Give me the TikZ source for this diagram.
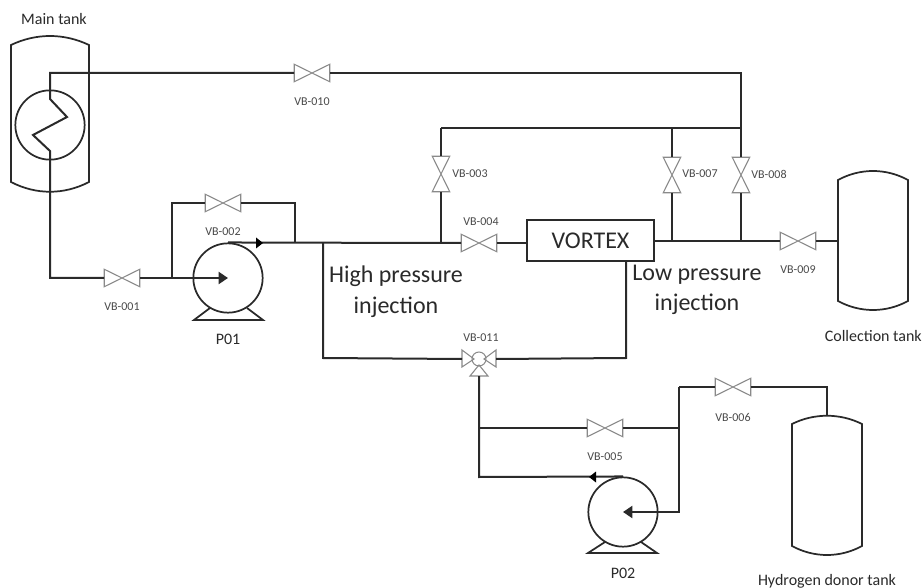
\documentclass[tikz,border=0pt]{standalone}
\usepackage{fontspec}
\setmainfont{Carlito}
\usetikzlibrary{arrows.meta,calc}
\definecolor{ink}{HTML}{2A2A2A}
\definecolor{valvegray}{HTML}{8A8A8A}
\definecolor{tagtext}{HTML}{4A4A4A}
\tikzset{
  pipe/.style={draw=ink,line width=1.5pt,line join=miter},
  thin pipe/.style={draw=ink,line width=1.3pt},
  valveh/.style={rectangle,inner sep=0pt,minimum width=26.25pt,minimum height=12.75pt,
    append after command={\pgfextra{\let\vn\tikzlastnode
      \draw[valvegray,line width=.8pt,line join=miter,fill=white] (\vn.south west)--(\vn.north east)--(\vn.south east)--(\vn.north west)--cycle;}}},
  valvev/.style={rectangle,inner sep=0pt,minimum width=12.75pt,minimum height=26.25pt,
    append after command={\pgfextra{\let\vn\tikzlastnode
      \draw[valvegray,line width=.8pt,line join=miter,fill=white] (\vn.north west)--(\vn.north east)--(\vn.south west)--(\vn.south east)--cycle;}}},
  pumpbody/.style={circle,draw=ink,line width=1.3pt,inner sep=0pt,minimum size=52pt},
  tag/.style={font=\fontsize{9}{10}\selectfont,text=tagtext,inner sep=0pt},
  caption/.style={font=\fontsize{12}{14}\selectfont,text=ink,inner sep=0pt},
  biglabel/.style={font=\fontsize{18}{22}\selectfont,text=ink,inner sep=0pt,align=center},
  headtip/.style={-{Triangle[length=7pt,width=9pt]}},
}
\begin{document}
\begin{tikzpicture}[x=0.75pt,y=-0.75pt]
\fill[white] (0,0) rectangle (922,588);
\useasboundingbox (0,0) rectangle (922,588);

% tanks
\draw[thin pipe] (11,45) .. controls (36,33) and (64,33) .. (89,45) -- (89,182) .. controls (64,195) and (36,195) .. (11,182) -- cycle;
\draw[thin pipe] (838,180) .. controls (860,168) and (886,168) .. (908,180) -- (908,301) .. controls (886,313) and (860,313) .. (838,301) -- cycle;
\draw[thin pipe] (792,424) .. controls (814,413) and (840,413) .. (862,424) -- (862,546) .. controls (840,558) and (814,558) .. (792,546) -- cycle;

% named points
\coordinate (coilTop) at (50,99);
\coordinate (coilA) at (67,117);
\coordinate (coilB) at (33,135);
\coordinate (coilEnd) at (50,151);
\coordinate (mainOut) at (50,73);
\coordinate (lowCorner) at (50,278);
\coordinate (by1) at (172,278);
\coordinate (by1t) at (172,203);
\coordinate (by2t) at (295,203);
\coordinate (by2) at (295,243);
\coordinate (hp) at (323,243);
\coordinate (hpb) at (323,358);
\coordinate (j441) at (441,243);
\coordinate (t441) at (441,128);
\coordinate (t672) at (672,128);
\coordinate (t741) at (741,128);
\coordinate (c741) at (741,73);
\coordinate (b672) at (672,241);
\coordinate (b741) at (741,241);
\coordinate (collIn) at (838,241);
\coordinate (lpt) at (626,261);
\coordinate (lpb) at (626,358);
\coordinate (j428) at (479,428);
\coordinate (c477) at (479,477);
\coordinate (k428) at (679,428);
\coordinate (k387) at (679,387);
\coordinate (k512) at (679,512);
\coordinate (h387) at (827,387);
\coordinate (hIn) at (827,416);

% coil
\node[circle,draw=ink,line width=1.3pt,inner sep=0pt,minimum size=52pt] (coil) at (50,125) {};

% pumps
\node[pumpbody] (p1) at (228,278) {};
\node[pumpbody] (p2) at (623,512) {};
\draw[thin pipe,line join=miter] (210,308) -- (194,320) -- (263,320) -- (247,308);
\draw[thin pipe,line join=miter] (605,542) -- (588,553) -- (657,553) -- (641,542);

% valves
\node[valveh] (v1) at (122,278) {};
\node[valveh] (v2) at (223,203) {};
\node[valvev] (v3) at (441,174) {};
\node[valveh] (v4) at (479,243) {};
\node[valveh] (v5) at (605,428) {};
\node[valveh] (v6) at (733,387) {};
\node[valvev] (v7) at (672,175) {};
\node[valvev] (v8) at (741,175) {};
\node[valveh] (v9) at (798,241) {};
\node[valveh] (v10) at (312,73) {};

% three-way valve
\node[circle,draw=valvegray,line width=.8pt,inner sep=0pt,minimum size=10.5pt] (v11) at (479,359) {};
\coordinate (v11l) at (462,359);
\coordinate (v11r) at (496,359);
\coordinate (v11b) at (479,376);
\draw[valvegray,line width=.8pt,line join=miter] (v11.center) ++(-5,0) -- (462,350) -- (462,367) -- cycle;
\draw[valvegray,line width=.8pt,line join=miter] (v11.center) ++(5,0) -- (496,350) -- (496,367) -- cycle;
\draw[valvegray,line width=.8pt,line join=miter] (v11.center) ++(0,6) -- (470,376) -- (488,376) -- cycle;

% vortex
\node[draw=ink,line width=1.3pt,minimum width=95.25pt,minimum height=30.75pt,inner sep=0pt,biglabel] (vortex) at (590.5,240.5) {VORTEX};

% pipes
\draw[pipe] (v10.west) -- (mainOut) -- (coilTop) -- (coilA) -- (coilB) -- (coilEnd) -- (lowCorner) -- (v1.west);
\draw[pipe] (v10.east) -- (c741) -- (t741) -- (v8.north);
\draw[pipe] (v8.south) -- (b741);
\draw[pipe] (t441) -- (t741);
\draw[pipe] (t441) -- (v3.north);
\draw[pipe] (v3.south) -- (j441);
\draw[pipe] (t672) -- (v7.north);
\draw[pipe] (v7.south) -- (b672);
\draw[pipe] (v1.east) -- (by1);
\draw[pipe,headtip] (by1) -- (p1.center);
\draw[pipe] (by1) -- (by1t) -- (v2.west);
\draw[pipe] (v2.east) -- (by2t) -- (by2);
\draw[pipe] (p1.north) -- (j441) -- (v4.west);
\draw[pipe] (v4.east) -- (vortex.west |- v4);
\draw[pipe] (hp) -- (hpb) -- (v11l);
\draw[pipe] (v11r) -- (lpb) -- (lpt);
\draw[pipe] (vortex.east |- b741) -- (v9.west);
\draw[pipe] (v9.east) -- (collIn);
\draw[pipe] (v11b) -- (c477) -- (p2.north);
\draw[pipe] (j428) -- (v5.west);
\draw[pipe] (v5.east) -- (k428);
\draw[pipe,headtip] (k387) -- (k512) -- (p2.center);
\draw[pipe] (k387) -- (v6.west);
\draw[pipe] (v6.east) -- (h387) -- (hIn);

% flow marks
\fill[black] (263,243) -- (256,237.5) -- (256,248.5) -- cycle;
\fill[black] (589,477) -- (596,471.5) -- (596,482.5) -- cycle;

% tags
\node[tag] (tv1) at (122,307) {VB-001};
\node[tag] (tv2) at (223,232) {VB-002};
\node[tag] (tv3) at (470,174) {VB-003};
\node[tag] (tv4) at (481,222) {VB-004};
\node[tag] (tv5) at (605,457) {VB-005};
\node[tag] (tv6) at (733,417) {VB-006};
\node[tag] (tv7) at (700,174) {VB-007};
\node[tag] (tv8) at (769,174) {VB-008};
\node[tag] (tv9) at (798,270) {VB-009};
\node[tag] (tv10) at (312,102) {VB-010};
\node[tag] (tv11) at (481,338) {VB-011};

% captions
\node[caption] (cMain) at (54,19) {Main tank};
\node[caption] (cP1) at (228,339) {P01};
\node[caption] (cP2) at (623,573) {P02};
\node[caption,anchor=east] (cColl) at (922,336) {Collection tank};
\node[caption] (cH) at (827,581) {Hydrogen donor tank};
\node[biglabel] (hpL) at (396,292) {High pressure\\[1pt]injection};
\node[biglabel] (lpL) at (697,290) {Low pressure\\[1pt]injection};
\end{tikzpicture}
\end{document}
